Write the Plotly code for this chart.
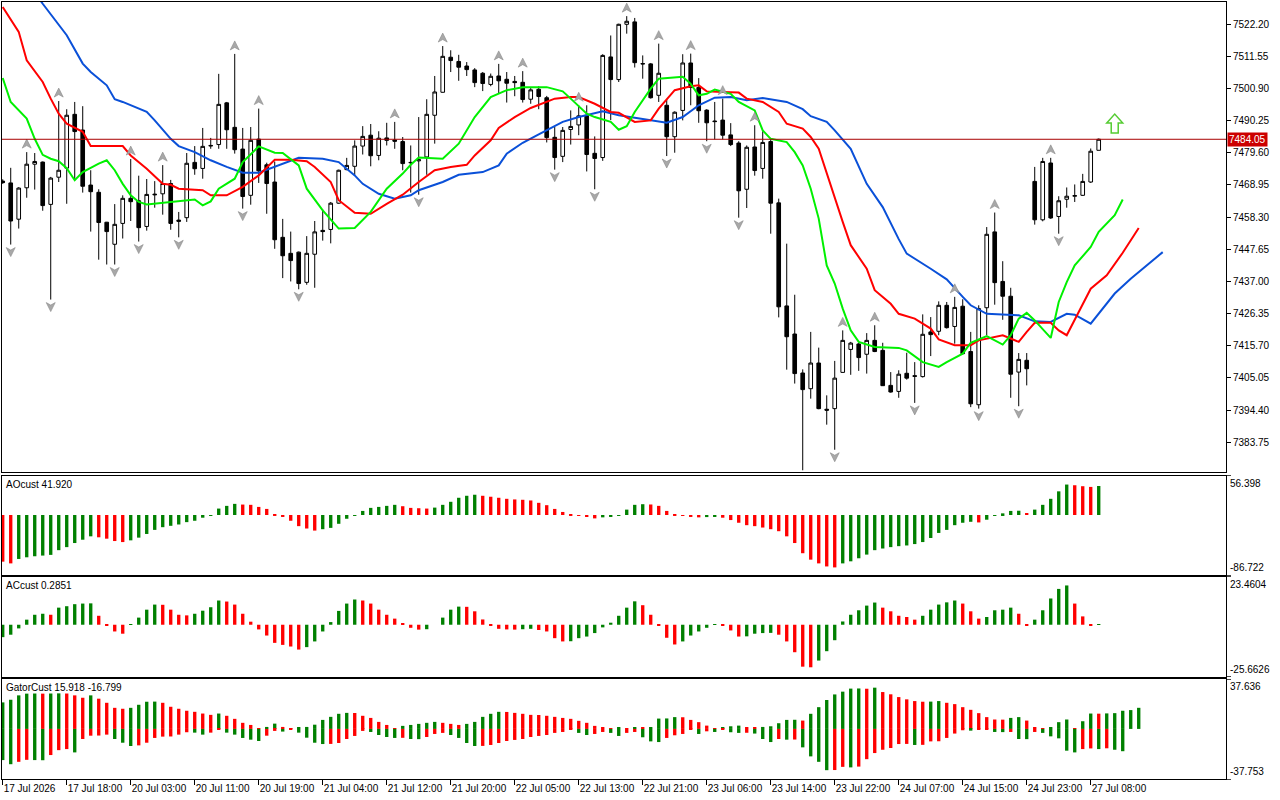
import plotly.graph_objects as go
from plotly.subplots import make_subplots

# H1 candles, bar index 0..137
open_ = [7470.2, 7469.6, 7457.6, 7468.0, 7475.8, 7476.5, 7462.5, 7471.5, 7474.5, 7492.3,
         7487.1, 7468.9, 7466.5, 7456.6, 7449.3, 7456.2, 7464.5, 7463.7, 7455.2, 7465.9,
         7466.0, 7469.4, 7457.3, 7458.1, 7476.4, 7474.4, 7481.8, 7482.3, 7496.1, 7488.0,
         7480.8, 7465.5, 7484.1, 7475.6, 7469.9, 7451.6, 7446.3, 7446.7, 7436.7, 7446.0,
         7453.9, 7454.2, 7462.9, 7474.0, 7475.1, 7481.8, 7485.4, 7478.7, 7484.5, 7483.8,
         7483.3, 7476.4, 7476.9, 7478.2, 7492.0, 7499.6, 7511.2, 7509.8, 7508.3, 7507.0,
         7505.9, 7502.2, 7505.0, 7503.9, 7503.2, 7502.9, 7497.3, 7500.6, 7497.8, 7484.7,
         7478.4, 7487.3, 7488.8, 7492.0, 7479.4, 7478.0, 7511.3, 7503.8, 7522.1, 7522.9,
         7509.1, 7509.0, 7498.6, 7495.3, 7484.9, 7493.6, 7509.3, 7501.2, 7493.7, 7490.1,
         7490.4, 7485.5, 7482.8, 7467.5, 7481.5, 7474.4, 7483.3, 7463.0, 7428.9, 7419.6,
         7406.7, 7401.5, 7410.0, 7394.7, 7394.9, 7406.9, 7414.5, 7416.3, 7412.9, 7417.5,
         7414.2, 7402.6, 7400.6, 7406.6, 7405.8, 7405.5, 7420.3, 7420.5, 7429.1, 7422.1,
         7428.8, 7413.8, 7396.2, 7428.3, 7453.4, 7437.0, 7432.1, 7407.0, 7410.9, 7470.1,
         7457.4, 7476.2, 7458.5, 7464.2, 7465.2, 7465.5, 7469.9, 7480.4]
high = [7470.8, 7474.6, 7468.2, 7479.8, 7479.5, 7476.7, 7471.6, 7496.7, 7494.0, 7496.4,
        7495.0, 7473.8, 7467.5, 7456.7, 7462.6, 7465.5, 7477.5, 7472.0, 7470.9, 7470.2,
        7475.5, 7470.6, 7460.0, 7479.5, 7481.8, 7487.8, 7484.5, 7505.7, 7496.4, 7512.3,
        7487.8, 7488.1, 7494.2, 7476.3, 7476.7, 7457.7, 7453.5, 7446.9, 7452.0, 7457.0,
        7460.8, 7463.3, 7474.0, 7477.9, 7483.7, 7488.4, 7489.1, 7486.7, 7489.5, 7489.8,
        7484.8, 7482.0, 7491.4, 7497.3, 7505.0, 7514.9, 7513.5, 7512.0, 7509.6, 7507.6,
        7506.3, 7505.8, 7509.0, 7506.3, 7505.0, 7506.6, 7501.0, 7501.6, 7498.4, 7488.1,
        7488.1, 7493.6, 7495.3, 7495.3, 7485.0, 7512.2, 7518.4, 7522.3, 7524.8, 7524.2,
        7511.8, 7509.3, 7515.7, 7497.2, 7493.3, 7512.2, 7512.4, 7504.3, 7494.0, 7496.4,
        7497.5, 7489.4, 7483.4, 7482.0, 7488.7, 7486.7, 7484.5, 7464.4, 7449.5, 7432.6,
        7407.9, 7420.3, 7415.1, 7399.3, 7410.7, 7420.8, 7417.0, 7416.7, 7419.9, 7422.5,
        7416.7, 7407.0, 7407.6, 7413.4, 7410.3, 7426.1, 7425.2, 7430.4, 7430.2, 7431.9,
        7431.1, 7420.3, 7429.1, 7455.0, 7459.8, 7443.7, 7434.9, 7413.3, 7413.3, 7474.9,
        7477.9, 7477.9, 7465.2, 7468.1, 7469.1, 7472.6, 7481.0, 7484.3]
low = [7469.3, 7449.2, 7454.5, 7464.7, 7467.4, 7460.4, 7431.0, 7469.9, 7462.7, 7470.5,
       7466.4, 7453.5, 7444.2, 7442.6, 7442.6, 7451.2, 7457.0, 7450.2, 7453.8, 7461.4,
       7459.1, 7454.1, 7451.6, 7456.7, 7472.3, 7471.0, 7480.9, 7480.9, 7480.9, 7479.3,
       7461.1, 7462.4, 7469.6, 7459.4, 7447.8, 7438.1, 7437.0, 7434.4, 7435.9, 7434.9,
       7450.5, 7449.6, 7462.7, 7473.8, 7472.1, 7479.0, 7475.1, 7477.1, 7482.0, 7480.9,
       7473.8, 7466.4, 7465.7, 7472.3, 7482.6, 7499.5, 7506.3, 7503.4, 7505.0, 7501.3,
       7500.0, 7501.6, 7499.1, 7496.2, 7498.3, 7496.2, 7495.8, 7494.0, 7483.0, 7474.0,
       7476.5, 7482.3, 7485.4, 7473.4, 7467.5, 7476.9, 7490.4, 7503.0, 7519.0, 7507.8,
       7504.1, 7497.5, 7496.4, 7478.5, 7479.6, 7490.3, 7495.3, 7489.5, 7483.4, 7484.0,
       7484.0, 7481.8, 7458.1, 7461.3, 7472.0, 7471.0, 7452.8, 7425.1, 7407.8, 7403.2,
       7374.5, 7398.2, 7394.7, 7389.6, 7381.3, 7406.8, 7406.1, 7407.4, 7406.5, 7413.6,
       7402.4, 7400.2, 7398.5, 7404.5, 7396.8, 7405.2, 7412.3, 7419.2, 7421.4, 7416.4,
       7412.8, 7395.4, 7394.9, 7419.2, 7429.3, 7424.3, 7398.5, 7395.7, 7402.6, 7455.8,
       7456.9, 7457.7, 7452.8, 7461.4, 7463.3, 7465.3, 7469.6, 7480.4]
close = [7469.7, 7457.0, 7467.9, 7475.8, 7476.7, 7462.1, 7471.2, 7473.8, 7492.0, 7486.6,
         7468.5, 7466.7, 7456.5, 7453.5, 7455.9, 7464.5, 7463.4, 7454.8, 7465.8, 7465.7,
         7469.4, 7456.2, 7456.9, 7476.1, 7474.3, 7481.7, 7482.0, 7495.6, 7487.2, 7480.6,
         7465.1, 7483.7, 7473.6, 7469.4, 7450.8, 7445.5, 7443.9, 7436.3, 7446.3, 7453.4,
         7453.5, 7462.9, 7473.8, 7475.4, 7481.8, 7485.0, 7478.6, 7484.4, 7483.7, 7483.4,
         7476.0, 7476.3, 7477.3, 7492.3, 7499.7, 7511.5, 7510.1, 7507.9, 7507.1, 7502.8,
         7502.5, 7504.9, 7503.4, 7502.6, 7502.8, 7497.2, 7500.4, 7498.2, 7484.6, 7478.0,
         7487.0, 7488.3, 7491.8, 7479.0, 7477.7, 7511.8, 7503.8, 7522.1, 7523.1, 7509.4,
         7509.0, 7497.8, 7505.9, 7484.9, 7493.0, 7509.3, 7501.2, 7493.5, 7489.5, 7489.9,
         7485.4, 7482.3, 7467.0, 7481.4, 7473.7, 7483.0, 7462.9, 7428.6, 7418.7, 7406.5,
         7401.2, 7410.0, 7394.9, 7394.4, 7405.0, 7417.5, 7416.6, 7411.8, 7417.5, 7413.8,
         7402.5, 7400.4, 7406.3, 7405.0, 7405.6, 7419.5, 7419.4, 7429.1, 7421.7, 7428.4,
         7413.1, 7396.5, 7428.0, 7452.6, 7436.6, 7432.1, 7406.3, 7411.2, 7408.1, 7457.4,
         7476.7, 7458.0, 7463.7, 7465.2, 7465.4, 7470.1, 7480.1, 7484.05]

last_price = 7484.05

# time labels every 8 bars
tick_bars = [0, 8, 16, 24, 32, 40, 48, 56, 64, 72, 80, 88, 96, 104, 112, 120, 128, 136]
tick_labels = ["17 Jul 2026", "17 Jul 18:00", "20 Jul 03:00", "20 Jul 11:00", "20 Jul 19:00",
               "21 Jul 04:00", "21 Jul 12:00", "21 Jul 20:00", "22 Jul 05:00", "22 Jul 13:00",
               "22 Jul 21:00", "23 Jul 06:00", "23 Jul 14:00", "23 Jul 22:00", "24 Jul 07:00",
               "24 Jul 15:00", "24 Jul 23:00", "27 Jul 08:00"]
price_ticks = [7522.20, 7511.55, 7500.90, 7490.25, 7479.60, 7468.95, 7458.30,
               7447.65, 7437.00, 7426.35, 7415.70, 7405.05, 7394.40, 7383.75]

# alligator lines (shifted, so they run past the last candle)
jaw_x = [0, 5, 8, 10, 11, 13, 14, 15, 18, 19, 21, 22, 24, 26, 28, 30, 32, 34, 37, 40,
         42, 44, 45, 47, 49, 51, 52, 55, 57, 60, 62, 63, 65, 67, 70, 72, 75, 77, 80, 83,
         85, 87, 89, 91, 93, 95, 98, 100, 101, 103, 104, 106, 108, 110, 112, 113, 116, 118, 120, 121,
         123, 127, 129, 131, 133, 134, 136, 137, 139, 141, 143, 145]
jaw_y = [7547.5, 7528.9, 7518.5, 7509.1, 7506.3, 7501.9, 7497.3, 7496.4, 7493.1, 7490.3,
         7484.2, 7481.8, 7479.8, 7477.1, 7474.9, 7473.0, 7473.0, 7474.9, 7477.9, 7477.6,
         7476.5, 7472.1, 7469.3, 7466.0, 7464.4, 7465.5, 7467.2, 7469.9, 7472.3, 7473.2,
         7475.4, 7479.3, 7482.9, 7485.7, 7489.8, 7491.4, 7493.3, 7492.0, 7490.7, 7489.5,
         7491.4, 7495.3, 7497.8, 7498.0, 7497.0, 7497.7, 7496.4, 7494.0, 7491.7, 7489.8,
         7487.0, 7480.9, 7469.3, 7461.6, 7451.0, 7446.2, 7441.2, 7437.7, 7431.9, 7429.1,
         7426.3, 7425.8, 7423.8, 7423.6, 7426.3, 7426.0, 7423.0, 7426.3, 7433.0, 7437.9,
         7442.3, 7446.7]
teeth_x = [0, 2, 3, 5, 6, 7, 8, 10, 11, 15, 16, 18, 20, 21, 22, 25, 26, 28, 30, 32,
           34, 36, 38, 39, 41, 42, 44, 46, 48, 50, 52, 54, 56, 58, 59, 61, 62, 64, 66, 68,
           69, 71, 72, 74, 76, 77, 79, 81, 82, 84, 86, 87, 88, 90, 92, 93, 95, 97, 98, 100,
           101, 102, 103, 104, 105, 106, 108, 109, 111, 112, 114, 116, 117, 119, 121, 122, 124, 125, 126, 127,
           128, 129, 131, 132, 133, 136, 138, 140, 142]
teeth_y = [7527.8, 7519.6, 7510.2, 7503.0, 7497.5, 7492.5, 7489.2, 7486.5, 7481.8, 7481.8,
           7478.7, 7474.3, 7469.3, 7469.0, 7467.7, 7467.2, 7465.5, 7465.5, 7468.3, 7472.1,
           7477.3, 7477.3, 7476.8, 7474.9, 7469.9, 7463.9, 7459.7, 7459.4, 7462.7, 7465.7,
           7469.9, 7473.8, 7474.9, 7475.6, 7478.7, 7483.7, 7487.8, 7491.4, 7494.4, 7496.4,
           7497.5, 7498.0, 7498.0, 7495.8, 7493.1, 7492.8, 7489.8, 7490.3, 7494.2, 7500.3,
           7501.6, 7501.9, 7499.9, 7499.7, 7499.5, 7497.5, 7496.4, 7493.1, 7489.2, 7487.6,
           7484.8, 7480.9, 7472.7, 7464.4, 7456.7, 7449.0, 7441.2, 7434.1, 7429.6, 7426.3,
           7424.7, 7421.4, 7417.8, 7415.9, 7415.9, 7417.5, 7418.6, 7419.2, 7418.1, 7417.0,
           7420.3, 7423.3, 7423.3, 7420.8, 7419.2, 7434.6, 7439.0, 7446.5, 7454.7]
lips_x = [0, 1, 3, 4, 5, 6, 7, 8, 9, 10, 12, 13, 14, 15, 16, 17, 18, 20, 24, 25,
          26, 27, 29, 30, 32, 34, 35, 37, 38, 40, 42, 44, 46, 48, 50, 51, 52, 55, 57, 59,
          60, 61, 63, 65, 68, 70, 71, 73, 74, 76, 77, 78, 79, 81, 82, 85, 86, 87, 88, 89,
          91, 92, 94, 95, 96, 98, 99, 100, 101, 102, 103, 104, 105, 106, 107, 109, 112, 113, 115, 117,
          118, 120, 121, 123, 125, 126, 127, 128, 129, 131, 132, 133, 134, 136, 137, 139, 140]
lips_y = [7504.3, 7496.4, 7490.9, 7484.2, 7478.9, 7477.6, 7476.8, 7474.5, 7470.5, 7473.2,
          7476.0, 7477.1, 7473.8, 7469.3, 7465.5, 7463.3, 7462.5, 7463.0, 7464.1, 7462.2,
          7463.5, 7467.7, 7471.0, 7476.5, 7481.7, 7479.6, 7479.5, 7475.4, 7467.7, 7460.5,
          7454.5, 7454.7, 7460.0, 7467.7, 7472.7, 7475.6, 7478.0, 7477.6, 7482.6, 7491.4,
          7494.7, 7498.0, 7500.3, 7501.3, 7501.3, 7499.9, 7497.5, 7492.5, 7491.4, 7489.8,
          7487.2, 7488.4, 7493.1, 7500.8, 7504.1, 7504.7, 7502.4, 7498.6, 7499.1, 7500.5,
          7499.1, 7496.4, 7493.6, 7487.0, 7484.2, 7483.1, 7479.8, 7475.4, 7467.7, 7457.8,
          7442.3, 7436.3, 7428.0, 7420.8, 7417.0, 7415.3, 7415.0, 7414.2, 7410.3, 7408.7,
          7410.3, 7413.1, 7416.7, 7418.9, 7416.1, 7419.2, 7424.7, 7426.6, 7424.1, 7418.3,
          7430.2, 7436.8, 7442.3, 7448.4, 7453.4, 7458.9, 7464.1]

# fractals
fractal_up = [3, 7, 16, 20, 29, 32, 49, 55, 62, 65, 72, 78, 82, 86, 90, 94, 105, 109, 119, 124, 131]
fractal_down = [1, 6, 14, 17, 22, 30, 37, 52, 69, 74, 83, 88, 92, 100, 104, 114, 122, 127, 132]

signal_bar = 139
signal_price = 7486.1

ao = [-67.4, -69.9, -63.5, -61.1, -59.6, -58.6, -57.6, -50.8, -46.4, -40.5,
      -35.7, -30.8, -32.2, -34.2, -37.6, -39.1, -36.6, -32.7, -27.4, -21.5,
      -17.6, -15.6, -13.7, -10.3, -8.3, -3.9, -1.0, 9.3, 13.2, 16.1,
      15.1, 14.7, 11.7, 8.8, 0.5, -2.0, -8.3, -16.1, -19.5, -22.5,
      -20.5, -18.6, -12.7, -5.4, -1.0, 5.9, 10.3, 11.7, 13.2, 14.7,
      12.7, 10.3, 9.8, 9.3, 10.7, 14.7, 19.1, 24.9, 27.8, 29.3,
      27.8, 26.4, 24.9, 23.4, 22.5, 22.0, 21.0, 17.6, 14.2, 8.8,
      4.4, 1.0, -0.5, -2.9, -4.9, -3.4, -2.2, -0.6, 7.8, 14.7,
      15.6, 15.2, 13.2, 5.9, 0.2, -0.3, -1.5, -3.4, -3.0, -2.7,
      -3.9, -7.3, -11.2, -14.7, -16.1, -18.1, -20.5, -23.4, -30.8, -40.5,
      -55.2, -64.5, -69.9, -74.3, -75.7, -69.9, -66.9, -62.5, -57.2, -50.8,
      -48.4, -46.4, -45.0, -44.0, -42.0, -39.1, -33.2, -25.9, -21.5, -14.7,
      -11.2, -9.8, -10.7, -6.8, -0.5, 2.4, 5.9, 6.2, 2.9, 7.8,
      14.7, 23.4, 34.2, 44.0, 43.0, 41.6, 40.6, 41.92]
ac = [-6.1, -4.9, -1.8, 2.5, 4.9, 5.4, 4.9, 8.4, 9.1, 10.1,
      10.4, 10.5, 4.4, -0.2, -3.3, -4.4, 0.3, 3.5, 7.4, 9.9,
      9.8, 7.4, 4.9, 4.6, 5.4, 6.9, 8.6, 11.9, 11.4, 9.9,
      5.4, 1.5, -2.3, -5.3, -8.9, -9.9, -10.7, -12.2, -11.0, -8.2,
      -3.3, 1.3, 6.8, 10.4, 12.4, 11.9, 10.4, 7.4, 4.9, 3.0,
      0.5, -1.5, -2.4, -2.2, 0.0, 3.5, 7.4, 8.9, 8.8, 6.6,
      2.6, -0.2, -2.0, -2.3, -2.4, -2.2, -2.0, -2.6, -3.3, -6.6,
      -8.2, -8.1, -6.6, -5.8, -4.1, -1.3, 1.0, 4.4, 8.4, 11.5,
      9.6, 4.9, -0.3, -6.4, -9.7, -8.2, -5.3, -3.3, -1.5, 0.1,
      -0.2, -2.8, -5.8, -5.7, -4.4, -4.1, -4.0, -4.9, -8.2, -13.5,
      -20.6, -20.9, -17.6, -13.0, -7.6, 1.6, 4.9, 7.1, 9.4, 10.9,
      8.4, 6.6, 4.4, 3.8, 2.5, 4.4, 7.4, 9.9, 11.0, 11.9,
      10.4, 6.6, 3.0, 3.8, 7.1, 7.4, 8.4, 5.4, -0.3, 2.5,
      7.1, 12.9, 17.6, 19.3, 10.4, 4.1, -0.3, 0.2851]
gator_up = [20.0, 22.0, 25.3, 26.6, 26.7, 26.6, 26.7, 26.8, 26.7, 25.3,
            23.5, 25.3, 22.8, 19.7, 15.9, 15.2, 15.9, 18.2, 20.5, 20.6,
            19.7, 16.7, 15.2, 13.7, 12.9, 11.6, 10.6, 11.6, 9.9, 7.6,
            4.6, 3.0, 0.2, 1.5, 4.0, 1.5, 0.1, 0.8, 1.5, 3.2,
            6.8, 9.1, 11.4, 12.1, 12.0, 9.9, 8.3, 5.3, 3.0, 0.1,
            2.3, 3.0, 3.8, 4.6, 5.3, 4.6, 3.8, 3.0, 3.8, 5.3,
            9.1, 11.4, 12.9, 12.8, 12.1, 11.4, 10.6, 10.5, 9.9, 9.1,
            8.3, 7.6, 6.1, 4.6, 2.3, 0.8, 0.05, 0.8, 0.05, 1.3,
            1.2, 1.3, 7.8, 7.9, 8.9, 8.8, 6.8, 5.1, 2.5, 0.5,
            0.8, 2.0, 2.5, 0.8, 0.7, 1.5, 2.0, 4.3, 6.8, 6.9,
            6.3, 11.4, 16.4, 21.8, 26.0, 28.1, 30.4, 30.5, 30.3, 31.1,
            27.8, 26.1, 24.0, 22.3, 21.0, 20.5, 20.6, 21.0, 19.7, 18.7,
            16.4, 14.4, 11.9, 8.9, 7.1, 7.0, 8.3, 8.9, 6.3, 1.3,
            0.5, 1.3, 5.1, 7.1, 0.5, 5.8, 11.6, 11.5, 11.7, 11.9,
            13.7, 14.2, 15.918]
gator_down = [23.5, 26.6, 24.8, 23.3, 23.5, 23.6, 19.7, 16.0, 15.2, 17.7,
              7.6, 5.1, 5.0, 4.3, 7.6, 10.4, 12.9, 12.4, 10.4, 6.8,
              5.8, 5.7, 4.3, 2.5, 2.8, 4.3, 2.8, 0.5, 2.8, 4.3,
              6.8, 8.1, 9.1, 5.1, 1.5, 2.0, 0.6, 2.8, 6.6, 10.4,
              11.4, 11.3, 10.6, 7.6, 5.3, 1.5, 2.3, 4.6, 6.1, 6.8,
              6.7, 7.6, 7.7, 6.1, 3.8, 3.0, 4.6, 6.8, 10.6, 12.9,
              12.8, 12.1, 10.6, 9.1, 8.3, 7.6, 6.1, 5.3, 4.6, 3.0,
              2.3, 0.8, 3.0, 4.6, 3.8, 2.3, 3.0, 5.3, 3.0, 2.3,
              6.3, 9.4, 9.9, 6.8, 4.8, 3.8, 0.5, 3.8, 1.8, 2.3,
              0.8, 2.5, 3.0, 2.9, 3.5, 7.6, 9.9, 7.6, 8.1, 8.0,
              13.9, 20.7, 24.8, 31.1, 31.0, 28.6, 29.0, 28.4, 22.8, 18.2,
              15.7, 14.4, 11.4, 11.3, 12.1, 12.0, 9.4, 9.3, 6.8, 3.5,
              1.0, 1.3, 0.8, 0.7, 2.3, 2.4, 2.3, 7.6, 7.7, 2.3,
              3.0, 5.6, 7.1, 16.4, 17.7, 15.2, 14.7, 15.2, 14.6, 15.7,
              16.799]

GREEN = "#008000"
RED = "#ff0000"
FONT = "Liberation Sans"


def updown(vals, first):
    cols = [first]
    for a, b in zip(vals[:-1], vals[1:]):
        cols.append(GREEN if b > a else RED)
    return cols


bars = list(range(len(close)))

fig = make_subplots(rows=4, cols=1, shared_xaxes=True, vertical_spacing=0.0)

fig.add_trace(go.Candlestick(
    x=bars, open=open_, high=high, low=low, close=close,
    increasing=dict(line=dict(color="black", width=1), fillcolor="white"),
    decreasing=dict(line=dict(color="black", width=1), fillcolor="black"),
    whiskerwidth=0, hoverinfo="skip"), row=1, col=1)

for xs, ys, col in [(jaw_x, jaw_y, "#0a50d8"), (teeth_x, teeth_y, "#ff0000"), (lips_x, lips_y, "#00f000")]:
    fig.add_trace(go.Scatter(x=xs, y=ys, mode="lines", line=dict(color=col, width=2),
                             hoverinfo="skip"), row=1, col=1)

fig.add_trace(go.Bar(x=list(range(len(ao))), y=ao, marker_color=updown(ao, RED),
                     marker_line_width=0, width=0.42), row=2, col=1)
fig.add_trace(go.Bar(x=list(range(len(ac))), y=ac, marker_color=updown(ac, GREEN),
                     marker_line_width=0, width=0.42), row=3, col=1)
fig.add_trace(go.Bar(x=list(range(len(gator_up))), y=gator_up,
                     marker_color=updown(gator_up, GREEN), marker_line_width=0, width=0.42), row=4, col=1)
fig.add_trace(go.Bar(x=list(range(len(gator_down))), y=[-v for v in gator_down],
                     marker_color=updown(gator_down, GREEN), marker_line_width=0, width=0.42), row=4, col=1)

# fractal arrows drawn as small pixel-sized icons anchored to highs / lows
shapes = []
for i in fractal_up:
    shapes.append(dict(type="path", xref="x", yref="y", xsizemode="pixel", ysizemode="pixel",
                       xanchor=i, yanchor=high[i], path="M0,13 L4.5,4 L0,6.5 L-4.5,4 Z",
                       fillcolor="#a8a8a8", line=dict(color="#8a8a8a", width=0.6)))
for i in fractal_down:
    shapes.append(dict(type="path", xref="x", yref="y", xsizemode="pixel", ysizemode="pixel",
                       xanchor=i, yanchor=low[i], path="M0,-12 L4.5,-3 L0,-5.5 L-4.5,-3 Z",
                       fillcolor="#a8a8a8", line=dict(color="#8a8a8a", width=0.6)))
# buy signal arrow
shapes.append(dict(type="path", xref="x", yref="y", xsizemode="pixel", ysizemode="pixel",
                   xanchor=signal_bar, yanchor=signal_price,
                   path="M-3.5,0 L3.5,0 L3.5,10 L8,10 L0,19 L-8,10 L-3.5,10 Z",
                   fillcolor="white", line=dict(color="#55cc33", width=1.5)))
# last price line
shapes.append(dict(type="line", xref="x domain", yref="y", x0=0, x1=1, y0=last_price, y1=last_price,
                   line=dict(color="#a80000", width=1)))

annotations = [
    dict(x=1, xref="paper", xanchor="left", xshift=1, y=last_price, yref="y", yanchor="middle",
         text="%.2f" % last_price, showarrow=False, bgcolor="#cc0000", borderpad=1,
         font=dict(family=FONT, size=10, color="white")),
]
titles = [("AOcust %.3f" % ao[-1], "y2 domain"), ("ACcust %.4f" % ac[-1], "y3 domain"),
          ("GatorCust %.3f %.3f" % (gator_up[-1], -gator_down[-1]), "y4 domain")]
for txt, yr in titles:
    annotations.append(dict(x=0, xref="paper", xanchor="left", xshift=2, y=1, yref=yr, yanchor="top",
                            yshift=-1, text=txt, showarrow=False,
                            font=dict(family=FONT, size=10, color="black")))
ranges = {"y2": (-86.722, 56.398), "y3": (-25.6626, 23.4604), "y4": (-37.753, 37.636)}
fmts = {"y2": "%.3f", "y3": "%.4f", "y4": "%.3f"}
for yr, (lo, hi) in ranges.items():
    annotations.append(dict(x=1, xref="paper", xanchor="left", xshift=2, y=hi, yref=yr, yanchor="top",
                            text=fmts[yr] % hi, showarrow=False,
                            font=dict(family=FONT, size=10, color="black")))
    annotations.append(dict(x=1, xref="paper", xanchor="left", xshift=2, y=lo, yref=yr, yanchor="bottom",
                            text=fmts[yr] % lo, showarrow=False,
                            font=dict(family=FONT, size=10, color="black")))

fig.update_layout(
    width=1280, height=800, margin=dict(l=2, r=54, t=2, b=21),
    paper_bgcolor="white", plot_bgcolor="white", showlegend=False,
    font=dict(family=FONT, size=10, color="black"),
    boxgap=0.35, barmode="overlay", hovermode=False,
    shapes=shapes, annotations=annotations,
)

axis_style = dict(showline=True, linecolor="black", linewidth=1, mirror=True, showgrid=False,
                  zeroline=False)
fig.update_xaxes(range=[-0.09, 152.91], rangeslider_visible=False, ticks="", **axis_style)
fig.update_xaxes(row=4, col=1, tickvals=tick_bars, ticktext=tick_labels, ticks="outside",
                 ticklen=5, tickcolor="black", showticklabels=True,
                 ticklabelposition="outside right", tickfont=dict(family=FONT, size=10))

fig.update_yaxes(**axis_style)
fig.update_layout(
    yaxis=dict(domain=[0.3951, 1.0], range=[7373.93, 7529.48], side="right", tickvals=price_ticks,
               tickformat=".2f", ticks="outside", ticklen=4, tickcolor="black",
               tickfont=dict(family=FONT, size=10)),
    yaxis2=dict(domain=[0.2625, 0.3900], range=list(ranges["y2"]), side="right",
                tickvals=list(ranges["y2"]), ticks="outside", ticklen=4, showticklabels=False),
    yaxis3=dict(domain=[0.1313, 0.2600], range=list(ranges["y3"]), side="right",
                tickvals=list(ranges["y3"]), ticks="outside", ticklen=4, showticklabels=False),
    yaxis4=dict(domain=[0.0, 0.1287], range=list(ranges["y4"]), side="right",
                tickvals=list(ranges["y4"]), ticks="outside", ticklen=4, showticklabels=False),
)

# the page body has a default 8px margin; drop it so the figure sits at the window corner
fig.write_html("out.html", config={"displayModeBar": False},
               post_script="document.body.style.margin = '0px';")
